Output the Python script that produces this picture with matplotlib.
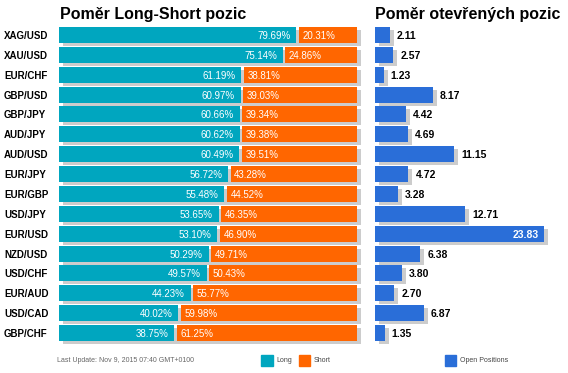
import matplotlib
matplotlib.use('Agg')
import matplotlib.pyplot as plt
import numpy as np

pairs = ['XAG/USD', 'XAU/USD', 'EUR/CHF', 'GBP/USD', 'GBP/JPY', 'AUD/JPY', 'AUD/USD', 'EUR/JPY',
         'EUR/GBP', 'USD/JPY', 'EUR/USD', 'NZD/USD', 'USD/CHF', 'EUR/AUD', 'USD/CAD', 'GBP/CHF']
long_pct = [79.69, 75.14, 61.19, 60.97, 60.66, 60.62, 60.49, 56.72,
            55.48, 53.65, 53.10, 50.29, 49.57, 44.23, 40.02, 38.75]
short_pct = [20.31, 24.86, 38.81, 39.03, 39.34, 39.38, 39.51, 43.28,
             44.52, 46.35, 46.90, 49.71, 50.43, 55.77, 59.98, 61.25]
open_pos = [2.11, 2.57, 1.23, 8.17, 4.42, 4.69, 11.15, 4.72,
            3.28, 12.71, 23.83, 6.38, 3.80, 2.70, 6.87, 1.35]

TEAL = '#00A6BF'
ORANGE = '#FF6600'
BLUE = '#2A6ED8'
SHADOW = '#CCCCCC'

plt.rcParams['font.family'] = ['Liberation Sans', 'DejaVu Sans']

W, H = 568, 373
fig = plt.figure(figsize=(W / 100, H / 100), dpi=100)

n = len(pairs)
y = np.arange(n)
row_px = 19.87
top_px = 35 - row_px / 2
ax_h = n * row_px
bottom = (H - top_px - ax_h) / H
bh = 16 / row_px

# left panel: long/short ratio
left_w = 298
ax1 = fig.add_axes([59 / W, bottom, left_w / W, ax_h / H])
ax1.set_xlim(0, 100)
ax1.set_ylim(n - 0.5, -0.5)
ax1.axis('off')
dx = 4 / left_w * 100
dy = 3 / row_px
gap = 2.5 / left_w * 100
ax1.barh(y + dy, [100] * n, left=dx, height=bh, color=SHADOW, clip_on=False, zorder=1)
ax1.barh(y, long_pct, height=bh, color=TEAL, zorder=2)
ax1.barh(y, np.array(short_pct) - gap, left=np.array(long_pct) + gap, height=bh, color=ORANGE, zorder=2)
for i in range(n):
    ax1.text(long_pct[i] - 2.0, i + 0.05, '%.2f%%' % long_pct[i], color='white', fontsize=7,
             ha='right', va='center', zorder=3)
    ax1.text(long_pct[i] + gap + 1.2, i + 0.05, '%.2f%%' % short_pct[i], color='white', fontsize=7,
             ha='left', va='center', zorder=3)
    ax1.text(-55 / left_w * 100, i + 0.05, pairs[i], fontsize=7, fontweight='bold',
             ha='left', va='center', clip_on=False)

# right panel: open positions
scale = 169 / 23.83
right_w = W - 375
ax2 = fig.add_axes([375 / W, bottom, right_w / W, ax_h / H])
ax2.set_xlim(0, right_w / scale)
ax2.set_ylim(n - 0.5, -0.5)
ax2.axis('off')
ax2.barh(y + dy, open_pos, left=4 / scale, height=bh, color=SHADOW, clip_on=False, zorder=1)
ax2.barh(y, open_pos, height=bh, color=BLUE, zorder=2)
vmax = max(open_pos)
for i in range(n):
    if open_pos[i] == vmax:
        ax2.text(open_pos[i] - 5 / scale, i + 0.05, '%.2f' % open_pos[i], color='white', fontsize=7.5,
                 fontweight='bold', ha='right', va='center', zorder=3)
    else:
        ax2.text(open_pos[i] + 7 / scale, i + 0.05, '%.2f' % open_pos[i], color='black', fontsize=7.5,
                 fontweight='bold', ha='left', va='center', zorder=3)

# titles
fig.text(60 / W, 1 - 14 / H, 'Poměr Long-Short pozic', fontsize=11.5, fontweight='bold', va='center')
fig.text(375 / W, 1 - 14 / H, 'Poměr otevřených pozic', fontsize=11.5, fontweight='bold', va='center')

# footer
fig.text(57 / W, 1 - 361 / H, 'Last Update: Nov 9, 2015 07:40 GMT+0100', fontsize=5, color='#666666',
         va='center')
legend_items = [(261, TEAL, 'Long'), (299, ORANGE, 'Short'), (445, BLUE, 'Open Positions')]
for x0, c, lbl in legend_items:
    fig.patches.append(plt.Rectangle((x0 / W, 1 - 366 / H), 11.5 / W, 11 / H, color=c,
                                     transform=fig.transFigure, figure=fig))
    fig.text((x0 + 15) / W, 1 - 360.5 / H, lbl, fontsize=5, color='#444444', va='center')

fig.savefig('out.png', dpi=100)
